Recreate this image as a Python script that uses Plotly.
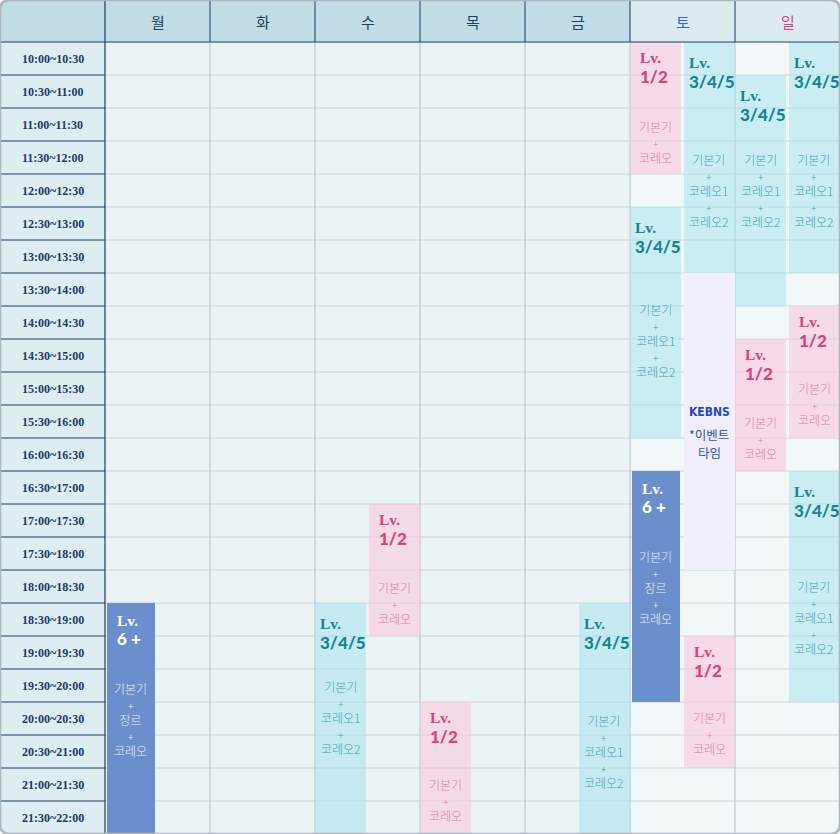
import plotly.graph_objects as go

# ---- data ----
DAYS = ["월", "화", "수", "목", "금", "토", "일"]
WEEKEND = ["토", "일"]
TIME_SLOTS = [
    "10:00~10:30", "10:30~11:00", "11:00~11:30", "11:30~12:00",
    "12:00~12:30", "12:30~13:00", "13:00~13:30", "13:30~14:00",
    "14:00~14:30", "14:30~15:00", "15:00~15:30", "15:30~16:00",
    "16:00~16:30", "16:30~17:00", "17:00~17:30", "17:30~18:00",
    "18:00~18:30", "18:30~19:00", "19:00~19:30", "19:30~20:00",
    "20:00~20:30", "20:30~21:00", "21:00~21:30", "21:30~22:00",
]

class_days = ["월", "수", "수", "목", "금", "토", "토", "토", "토", "토", "일", "일", "일", "일", "일"]
class_sides = ["L", "L", "R", "L", "R", "L", "R", "L", "L", "R", "L", "R", "L", "R", "R"]
class_start = ["18:30", "18:30", "17:00", "20:00", "18:30", "10:00", "10:00", "12:30",
               "16:30", "19:00", "10:30", "10:00", "14:30", "14:00", "16:30"]
class_end = ["22:00", "22:00", "19:00", "22:00", "22:00", "12:00", "13:30", "16:00",
             "20:00", "21:00", "14:00", "13:30", "16:30", "16:00", "20:00"]
class_levels = ["6 +", "3/4/5", "1/2", "1/2", "3/4/5", "1/2", "3/4/5", "3/4/5",
                "6 +", "1/2", "3/4/5", "3/4/5", "1/2", "1/2", "3/4/5"]
# where the curriculum text sits in each block
class_desc_at = ["20:16", "20:14", "18:30", "21:29", "20:45", "11:31", "12:15", "14:31",
                 "18:16", "20:28", "12:15", "12:15", "16:00", "15:29", "18:43"]

LEVEL_DESC = {
    "1/2": ["기본기", "코레오"],
    "3/4/5": ["기본기", "코레오1", "코레오2"],
    "6 +": ["기본기", "장르", "코레오"],
}

event_day = "토"
event_side = "R"
event_start = "13:30"
event_end = "18:00"
event_logo = "KEBNS"
event_lines = ["*이벤트", "타임"]

# ---- styles ----
NAVY = "#1d3a66"
GRID_H = "#cbd4da"
GRID_V = "#b6bec6"
STYLE = {
    "1/2": dict(fill="rgba(250,200,222,0.62)", title="#de3f7e", desc="#e27aa8",
                pad=8, off=(15, 34), width=0.49),
    "3/4/5": dict(fill="rgba(172,227,238,0.58)", title="#14858f", desc="#45a3ae",
                  pad=3, off=(20, 39), width=0.49),
    "6 +": dict(fill="#6b8fcd", title="#ffffff", desc="#e9eef8",
                pad=8, off=(17, 35), width=0.46),
}
HEAD = 42 / 66  # header height in hours
Y_TOP = 10 - HEAD


def hours(t):
    h, m = t.split(":")
    return int(h) + int(m) / 60


def col(d):
    return DAYS.index(d) + 1


fig = go.Figure()
shapes = []
ann = []

# backgrounds
shapes.append(dict(type="rect", xref="x", yref="y", x0=0, x1=1, y0=Y_TOP, y1=22,
                   fillcolor="#deedf2", line_width=0, layer="below"))
shapes.append(dict(type="rect", xref="x", yref="y", x0=0, x1=1, y0=Y_TOP, y1=10,
                   fillcolor="#c2dde6", line_width=0, layer="below"))
for d in DAYS:
    c = col(d)
    wk = d in WEEKEND
    shapes.append(dict(type="rect", xref="x", yref="y", x0=c, x1=c + 1, y0=10, y1=22,
                       fillcolor="#f2f8fa" if wk else "#eaf3f6", line_width=0, layer="below"))
    shapes.append(dict(type="rect", xref="x", yref="y", x0=c, x1=c + 1, y0=Y_TOP, y1=10,
                       fillcolor="#dcebf0" if wk else "#c2dde6", line_width=0, layer="below"))

# grid lines
for i in range(1, len(TIME_SLOTS)):
    y = 10 + i / 2
    shapes.append(dict(type="line", xref="x", yref="y", x0=1, x1=8, y0=y, y1=y,
                       line=dict(color=GRID_H, width=1), layer="below"))
    shapes.append(dict(type="line", xref="x", yref="y", x0=0, x1=1, y0=y, y1=y,
                       line=dict(color=NAVY, width=1), layer="above"))
for c in range(2, 8):
    shapes.append(dict(type="line", xref="x", yref="y", x0=c, x1=c, y0=10, y1=22,
                       line=dict(color=GRID_V, width=1), layer="below"))
    shapes.append(dict(type="line", xref="x", yref="y", x0=c, x1=c, y0=Y_TOP, y1=10,
                       line=dict(color=NAVY, width=1), layer="above"))
shapes.append(dict(type="line", xref="x", yref="y", x0=1, x1=1, y0=Y_TOP, y1=22,
                   line=dict(color=NAVY, width=1.2), layer="above"))
shapes.append(dict(type="line", xref="x", yref="y", x0=0, x1=8, y0=10, y1=10,
                   line=dict(color=NAVY, width=1.2), layer="above"))

# class blocks
bx, by, bb, bw, bc = [], [], [], [], []
for d, s, t0, t1, lv, da in zip(class_days, class_sides, class_start, class_end,
                                 class_levels, class_desc_at):
    st = STYLE[lv]
    c = col(d)
    w = st["width"]
    left = c + (0.015 if lv == "6 +" else 0) if s == "L" else c + 1 - w
    cx = left + w / 2
    bx.append(cx)
    by.append(hours(t1) - hours(t0))
    bb.append(hours(t0))
    bw.append(w)
    bc.append(st["fill"])
    ann.append(dict(x=left, y=hours(t0), xref="x", yref="y", text="Lv.", showarrow=False,
                    xanchor="left", yanchor="middle", xshift=st["pad"], yshift=-st["off"][0],
                    font=dict(family="Liberation Serif", size=15.5, color=st["title"], weight="bold")))
    ann.append(dict(x=left, y=hours(t0), xref="x", yref="y", text=lv, showarrow=False,
                    xanchor="left", yanchor="middle", xshift=st["pad"], yshift=-st["off"][1],
                    font=dict(family="Lato", size=17, color=st["title"], weight=900)))
    lines = LEVEL_DESC[lv]
    txt = "<br><span style='font-size:10px'>+</span><br>".join(lines)
    ann.append(dict(x=cx, y=hours(da), xref="x", yref="y", text=txt, showarrow=False,
                    xanchor="center", yanchor="middle",
                    font=dict(family="Noto Sans CJK KR", size=12, color=st["desc"], weight=300)))

fig.add_trace(go.Bar(x=bx, y=by, base=bb, width=bw, marker=dict(color=bc, line_width=0),
                     hoverinfo="skip"))

# event block
ec = col(event_day)
ew = 0.49
ecx = ec + 1 - ew / 2 if event_side == "R" else ec + ew / 2
fig.add_trace(go.Bar(x=[ecx], y=[hours(event_end) - hours(event_start)], base=[hours(event_start)],
                     width=[ew], marker=dict(color="#f0effb", line_width=0), hoverinfo="skip"))
emid = (hours(event_start) + hours(event_end)) / 2
ann.append(dict(x=ecx, y=emid, xref="x", yref="y", text="<b>" + event_logo + "</b>", showarrow=False,
                xanchor="center", yanchor="middle", yshift=10,
                font=dict(family="DejaVu Sans Condensed", size=12, color="#2246d6")))
for k, line in enumerate(event_lines):
    ann.append(dict(x=ecx, y=emid, xref="x", yref="y", text=line, showarrow=False,
                    xanchor="center", yanchor="middle", yshift=-13 - 18 * k,
                    font=dict(family="Noto Sans CJK KR", size=12.5, color="#2d4fc8")))

# time labels
for i, lab in enumerate(TIME_SLOTS):
    ann.append(dict(x=0.5, y=10 + i / 2 + 0.25, xref="x", yref="y", text="<b>" + lab + "</b>",
                    showarrow=False, xanchor="center", yanchor="middle",
                    font=dict(family="Liberation Serif", size=12, color="#1b3a68")))

# header day names
DAY_COLOR = {"토": "#3a60d2", "일": "#e0407f"}
for d in DAYS:
    ann.append(dict(x=col(d) + 0.5, y=(Y_TOP + 10) / 2, xref="x", yref="y", text=d,
                    showarrow=False, xanchor="center", yanchor="middle",
                    font=dict(family="Noto Sans CJK KR", size=15, color=DAY_COLOR.get(d, "#213f63"))))

# rounded outer frame
rx, ry = 10 / 840, 10 / 834
for px, py, sx, sy in [(0, 0, 1, 1), (1, 0, -1, 1), (1, 1, -1, -1), (0, 1, 1, -1)]:
    shapes.append(dict(type="path", xref="paper", yref="paper",
                       path=f"M {px},{py} L {px + sx * rx},{py} Q {px},{py} {px},{py + sy * ry} Z",
                       fillcolor="white", line_width=0, layer="above"))
frame = (f"M {rx},0 L {1 - rx},0 Q 1,0 1,{ry} L 1,{1 - ry} Q 1,1 {1 - rx},1 "
         f"L {rx},1 Q 0,1 0,{1 - ry} L 0,{ry} Q 0,0 {rx},0 Z")
shapes.append(dict(type="path", xref="paper", yref="paper", path=frame,
                   line=dict(color="#aeb6be", width=2.5), layer="above"))

fig.update_layout(
    width=840, height=834,
    margin=dict(l=0, r=0, t=0, b=0),
    paper_bgcolor="white", plot_bgcolor="white",
    showlegend=False, barmode="overlay", bargap=0,
    xaxis=dict(range=[0, 8], visible=False, fixedrange=True),
    yaxis=dict(range=[22, Y_TOP], visible=False, fixedrange=True),
    shapes=shapes, annotations=ann,
)

fig.write_html("out.html", config={"displayModeBar": False},
               post_script="document.body.style.margin='0';document.body.style.overflow='hidden';")
